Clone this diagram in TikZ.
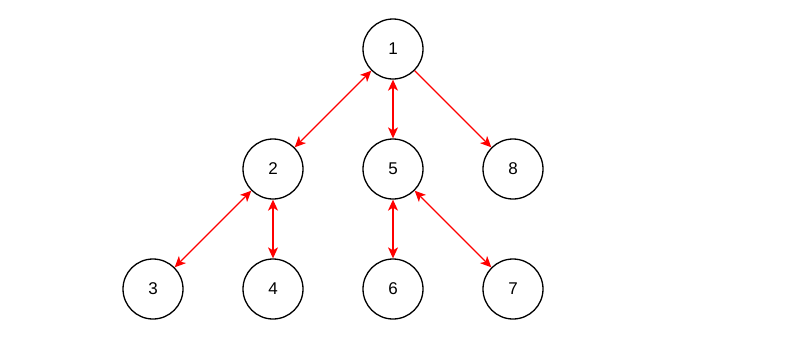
\documentclass[tikz,border=0pt]{standalone}
\usepackage{fontspec}
\setmainfont{Liberation Sans}
\usetikzlibrary{arrows.meta}
\begin{document}
\begin{tikzpicture}[x=1pt,y=-1pt,>={Stealth[length=11pt,width=10pt,inset=3pt]},
  vtx/.style={circle,draw,line width=1.3pt,minimum size=60pt,inner sep=0pt,font=\fontsize{17}{17}\selectfont},
  lnk/.style={red,line width=1.3pt}]
  \useasboundingbox (0,0) rectangle (795,360);
  % vertices
  \node[vtx] (n1) at (393,49) {1};
  \node[vtx] (n2) at (273,169) {2};
  \node[vtx] (n5) at (393,169) {5};
  \node[vtx] (n8) at (513,169) {8};
  \node[vtx] (n3) at (153,289) {3};
  \node[vtx] (n4) at (273,289) {4};
  \node[vtx] (n6) at (393,289) {6};
  \node[vtx] (n7) at (513,289) {7};
  % links
  \draw[lnk,<->] (n1)--(n2);
  \draw[lnk,<->] (n1)--(n5);
  \draw[lnk,->] (n1)--(n8);
  \draw[lnk,<->] (n2)--(n3);
  \draw[lnk,<->] (n2)--(n4);
  \draw[lnk,<->] (n5)--(n6);
  \draw[lnk,<->] (n5)--(n7);
\end{tikzpicture}
\end{document}
